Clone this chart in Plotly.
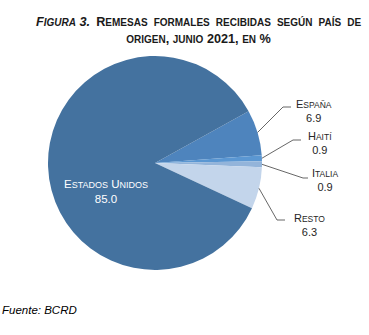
import math
import plotly.graph_objects as go

# ---- data ----
labels = ["España", "Haití", "Italia", "Resto", "Estados Unidos"]
values = [6.9, 0.9, 0.9, 6.3, 85.0]
colors = ["#4E84BD", "#5B97D2", "#93B4DA", "#C3D5EB", "#44729F"]

title_part1 = "Figura 3."
title_line1 = " Remesas formales recibidas según país de"
title_line2 = "origen, junio 2021, en %"
source_text = "Fuente: BCRD"

W, H = 369, 335
CX, CY, R = 155, 163, 107       # pie centre / radius in pixels
START = 29.0                    # math angle (deg) where first slice begins


def px(x):
    return x / W


def py(y):
    return 1 - y / H


def smallcaps(s, small):
    """Faux small caps: lowercase letters -> uppercase at a smaller size."""
    out = []
    buf = ""
    for ch in s:
        if ch.isalpha() and ch.islower():
            buf += ch.upper()
        else:
            if buf:
                out.append(f"<span style='font-size:{small}px'>{buf}</span>")
                buf = ""
            out.append(ch)
    if buf:
        out.append(f"<span style='font-size:{small}px'>{buf}</span>")
    return "".join(out)


fig = go.Figure()
fig.add_trace(go.Pie(
    labels=labels, values=values, sort=False, direction="clockwise",
    rotation=90 - START,
    marker=dict(colors=colors, line=dict(width=0)),
    textinfo="none", hoverinfo="label+value",
    domain=dict(x=[px(CX - R), px(CX + R)], y=[py(CY + R), py(CY - R)]),
    showlegend=False,
))

# leader-line elbows and label anchors (layout offsets, pixels)
elbow = {"España": (283, 107), "Haití": (293, 140), "Italia": (303, 178), "Resto": (277, 220)}
tail = {"España": 8, "Haití": 8, "Italia": 5, "Resto": 8}
lab_pos = {"España": (314, 111), "Haití": (320, 143.5), "Italia": (325, 180.5), "Resto": (309, 224.5)}

shapes = []
annotations = []
total = sum(values)
ang = START
for lab, v in zip(labels, values):
    span = v / total * 360
    mid = ang - span / 2
    ang -= span
    if lab in elbow:
        sx = CX + R * math.cos(math.radians(mid))
        sy = CY - R * math.sin(math.radians(mid))
        ex, ey = elbow[lab]
        path = f"M {px(sx)} {py(sy)} L {px(ex)} {py(ey)} L {px(ex + tail[lab])} {py(ey)}"
        shapes.append(dict(type="path", xref="paper", yref="paper", path=path,
                           line=dict(color="#404040", width=0.8)))
        lx, ly = lab_pos[lab]
        annotations.append(dict(x=px(lx), y=py(ly), xref="paper", yref="paper",
                                xanchor="center", yanchor="middle",
                                text=f"{smallcaps(lab, 8.5)}<br>{v:.1f}", showarrow=False,
                                font=dict(family="Liberation Sans", size=11, color="#262626"),
                                align="center"))
    else:
        annotations.append(dict(x=px(106), y=py(191), xref="paper", yref="paper",
                                xanchor="center", yanchor="middle",
                                text=f"{smallcaps(lab, 9)}<br>{v:.1f}", showarrow=False,
                                font=dict(family="Liberation Sans", size=11.5, color="white"),
                                align="center"))

# line 1 of the title is justified in the reference: widen the word gaps
line1_justified = title_line1.replace(" ", " \u2009").lstrip(" \u2009")
title_html = ("<b><i>" + smallcaps(title_part1, 10) + "</i> \u2009" + smallcaps(line1_justified, 10)
              + "<br>" + smallcaps(title_line2, 10) + "</b>")
annotations.append(dict(x=px(198), y=py(31), xref="paper", yref="paper",
                        xanchor="center", yanchor="middle",
                        text=title_html, showarrow=False, align="center",
                        font=dict(family="Liberation Sans", size=12.7, color="#1a1a1a")))
annotations.append(dict(x=0, y=py(310), xref="paper", yref="paper",
                        xanchor="left", yanchor="middle",
                        text=f"<i>{source_text}</i>", showarrow=False,
                        font=dict(family="Liberation Sans", size=11.5, color="#000000")))

fig.update_layout(
    width=W, height=H, margin=dict(l=0, r=0, t=0, b=0),
    paper_bgcolor="white", plot_bgcolor="white",
    shapes=shapes, annotations=annotations,
)
fig.write_html("out.html")
